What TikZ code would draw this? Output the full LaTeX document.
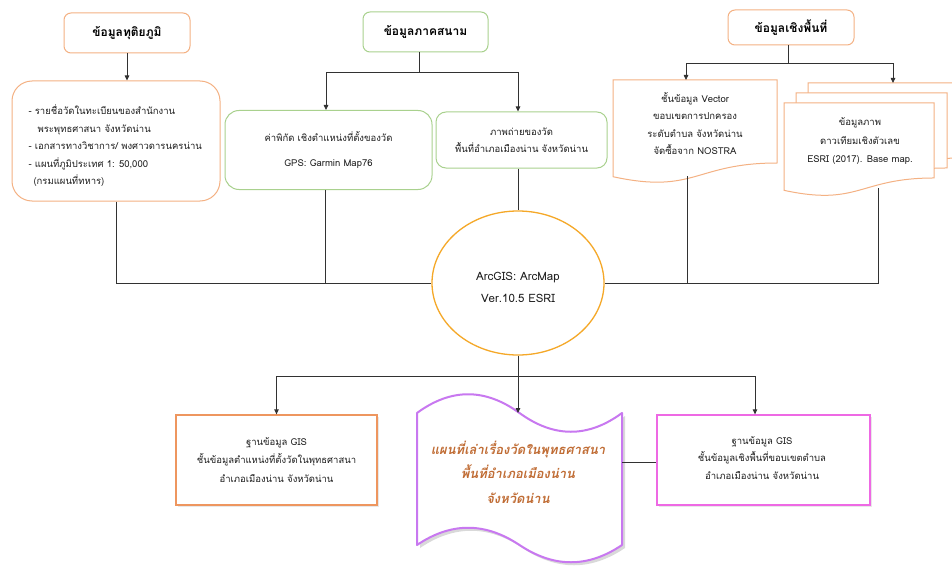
\documentclass[tikz,border=0pt]{standalone}
\usepackage{fontspec}
\newfontfamily\thai[Script=Thai]{Loma}
\usetikzlibrary{arrows.meta,shapes.geometric,shadows}
\definecolor{lorange}{RGB}{244,177,131}
\definecolor{dorange}{RGB}{238,150,95}
\definecolor{lgreen}{RGB}{169,209,142}
\definecolor{gold}{RGB}{245,168,40}
\definecolor{violet}{RGB}{200,120,240}
\definecolor{pinkm}{RGB}{238,105,228}
\definecolor{brownt}{RGB}{192,108,52}
\definecolor{ink}{RGB}{30,30,30}
\definecolor{wirec}{RGB}{50,50,50}
\newcommand\mydoc[4]{%
  \draw[lorange,line width=1pt,fill=white] (#1,#3) -- (#2,#3) -- (#2,{#3+0.802*#4})
   .. controls ({(#1+#2)/2},{#3+0.802*#4}) and ({(#1+#2)/2},{#3+1.1075*#4}) .. (#1,{#3+0.934*#4}) -- cycle;}
\begin{document}
\begin{tikzpicture}[x=1pt,y=-1pt,
  every node/.style={font=\thai\fontsize{9.5}{17.5}\selectfont, text=ink},
  hdr/.style={draw=#1, line width=1pt, rounded corners=7pt, fill=white, minimum width=126pt, minimum height=40pt, inner sep=0pt, font=\thai\bfseries\fontsize{12}{14}\selectfont, text=black},
  rbox/.style={draw=#1, line width=1pt, fill=white, inner sep=0pt},
  softshadow/.style={drop shadow={opacity=0.18, shadow xshift=2pt, shadow yshift=-2pt}},
  wire/.style={draw=wirec, line width=0.8pt},
  arr/.style={wire, -{Triangle[length=5pt,width=4.5pt]}},
]
\useasboundingbox (0,0) rectangle (952,567);
\fill[white] (0,0) rectangle (952,567);
\begin{scope}
\clip (0,0) rectangle (952,567);
% ---------- top left
\node[hdr=lorange] (h1) at (127,33) {ข้อมูลทุติยภูมิ};
\node[rbox=lorange, rounded corners=20pt, minimum width=208pt, minimum height=120pt] (b1) at (116,141) {};
\node[align=left, anchor=west] (b1t) at (25,146) {- รายชื่อวัดในทะเบียนของสำนักงาน\\\hspace*{9pt}พระพุทธศาสนา จังหวัดน่าน\\- เอกสารทางวิชาการ/ พงศาวดารนครน่าน\\- แผนที่ภูมิประเทศ 1: 50,000\\\hspace*{5pt}(กรมแผนที่ทหาร)};
% ---------- top middle
\node[hdr=lgreen, minimum width=125pt] (h2) at (425.5,32) {ข้อมูลภาคสนาม};
\node[rbox=lgreen, rounded corners=14pt, minimum width=207pt, minimum height=79pt, align=center] (g1) at (328.5,150) {ค่าพิกัด เชิงตำแหน่งที่ตั้งของวัด\\[8pt]GPS: Garmin Map76};
\node[rbox=lgreen, rounded corners=10pt, minimum width=171pt, minimum height=56pt, align=center] (g2) at (521.5,140) {ภาพถ่ายของวัด\\พื้นที่อำเภอเมืองน่าน จังหวัดน่าน};
% ---------- top right
\node[hdr=lorange, minimum height=35pt] (h3) at (791,27.5) {ข้อมูลเชิงพื้นที่};
\draw[lorange, line width=1pt, fill=white] (613,80) -- (777,80) -- (777,163) .. controls (695,163) and (695,194.6) .. (613,176.7) -- cycle;
\node[align=center] (vec) at (695,123.5) {ชั้นข้อมูล Vector\\ขอบเขตการปกครอง\\ระดับตำบล จังหวัดน่าน\\จัดซื้อจาก NOSTRA};
\coordinate (vecT) at (686,80);
\coordinate (vecB) at (687,176);
\mydoc{808}{962}{83}{93.5}
\mydoc{796}{947}{93}{93.5}
\mydoc{784}{934}{103}{93.5}
\node[align=center, font=\thai\fontsize{9.5}{18.5}\selectfont] (sat) at (860,141.5) {ข้อมูลภาพ\\ดาวเทียมเชิงตัวเลข\\ESRI (2017). Base map.};
\coordinate (satT) at (893,83);
\coordinate (satB) at (878,188);
% ---------- centre
\node[ellipse, draw=gold, line width=1.3pt, fill=white, minimum width=172pt, minimum height=144pt, inner sep=0pt] (gis) at (518,283) {};
\node[align=center, font=\thai\fontsize{11.5}{22}\selectfont] (gist) at (518,287) {ArcGIS: ArcMap\\Ver.10.5 ESRI};
% ---------- bottom
\node[rbox=dorange, line width=1.3pt, minimum width=201pt, minimum height=90pt, align=center, softshadow, font=\thai\fontsize{9.5}{18.5}\selectfont] (db1) at (276.5,460) {ฐานข้อมูล GIS\\ชั้นข้อมูลตำแหน่งที่ตั้งวัดในพุทธศาสนา\\อำเภอเมืองน่าน จังหวัดน่าน};
\fill[black, opacity=0.15] (420,416)
  .. controls (454,391) and (488,391) .. (522.5,416)
  .. controls (557,441) and (591,441) .. (625,416)
  -- (625,548)
  .. controls (591,571) and (557,571) .. (522.5,548)
  .. controls (488,525) and (454,525) .. (420,548) -- cycle;
\draw[violet, line width=2pt, fill=white, line join=round] (417,413)
  .. controls (451,388) and (485,388) .. (519.5,413)
  .. controls (554,438) and (588,438) .. (622,413)
  -- (622,545)
  .. controls (588,568) and (554,568) .. (519.5,545)
  .. controls (485,522) and (451,522) .. (417,545) -- cycle;
\node[align=center, text=brownt, font=\thai\bfseries\itshape\fontsize{13}{24.5}\selectfont] (mapt) at (518,472) {แผนที่เล่าเรื่องวัดในพุทธศาสนา\\พื้นที่อำเภอเมืองน่าน\\จังหวัดน่าน};
\coordinate (mapT) at (518,413);
\coordinate (mapR) at (622,462);
\node[rbox=pinkm, line width=1.3pt, minimum width=213pt, minimum height=90pt, softshadow] (db2) at (763.5,460) {};
\node[align=center] (db2t) at (762,458) {ฐานข้อมูล GIS\\ชั้นข้อมูลเชิงพื้นที่ขอบเขตตำบล\\อำเภอเมืองน่าน จังหวัดน่าน};
% ---------- connectors
\draw[arr] (h1.south) -- (h1.south |- b1.north);
\coordinate (j2) at (419,72);
\draw[wire] (j2 |- h2.south) -- (j2);
\draw[arr] (j2) -| ([xshift=-2.5pt]g1.north);
\draw[arr] (j2) -| ([xshift=-3.5pt]g2.north);
\coordinate (j3) at (788,63);
\draw[wire] (j3 |- h3.south) -- (j3);
\draw[arr] (j3) -| (vecT);
\draw[arr] (j3) -| (satT);
\draw[wire] (b1.south) |- (gis.west);
\draw[wire] ([xshift=-3pt]g1.south) -- ([xshift=-3pt]g1.south |- gis.west);
\draw[wire] (g2.south -| gis.north) -- (gis.north);
\draw[wire] (vecB) -- (vecB |- gis.east);
\draw[wire] (satB) |- (gis.east);
\coordinate (j4) at (518,376);
\draw[wire] (gis.south) -- (j4);
\draw[arr] (j4) -| (db1.north);
\draw[arr] (j4) -- (mapT);
\draw[arr] (j4) -| ([xshift=-8.5pt]db2.north);
\draw[wire] (mapR) -- (mapR -| db2.west);
\end{scope}
\end{tikzpicture}
\end{document}
